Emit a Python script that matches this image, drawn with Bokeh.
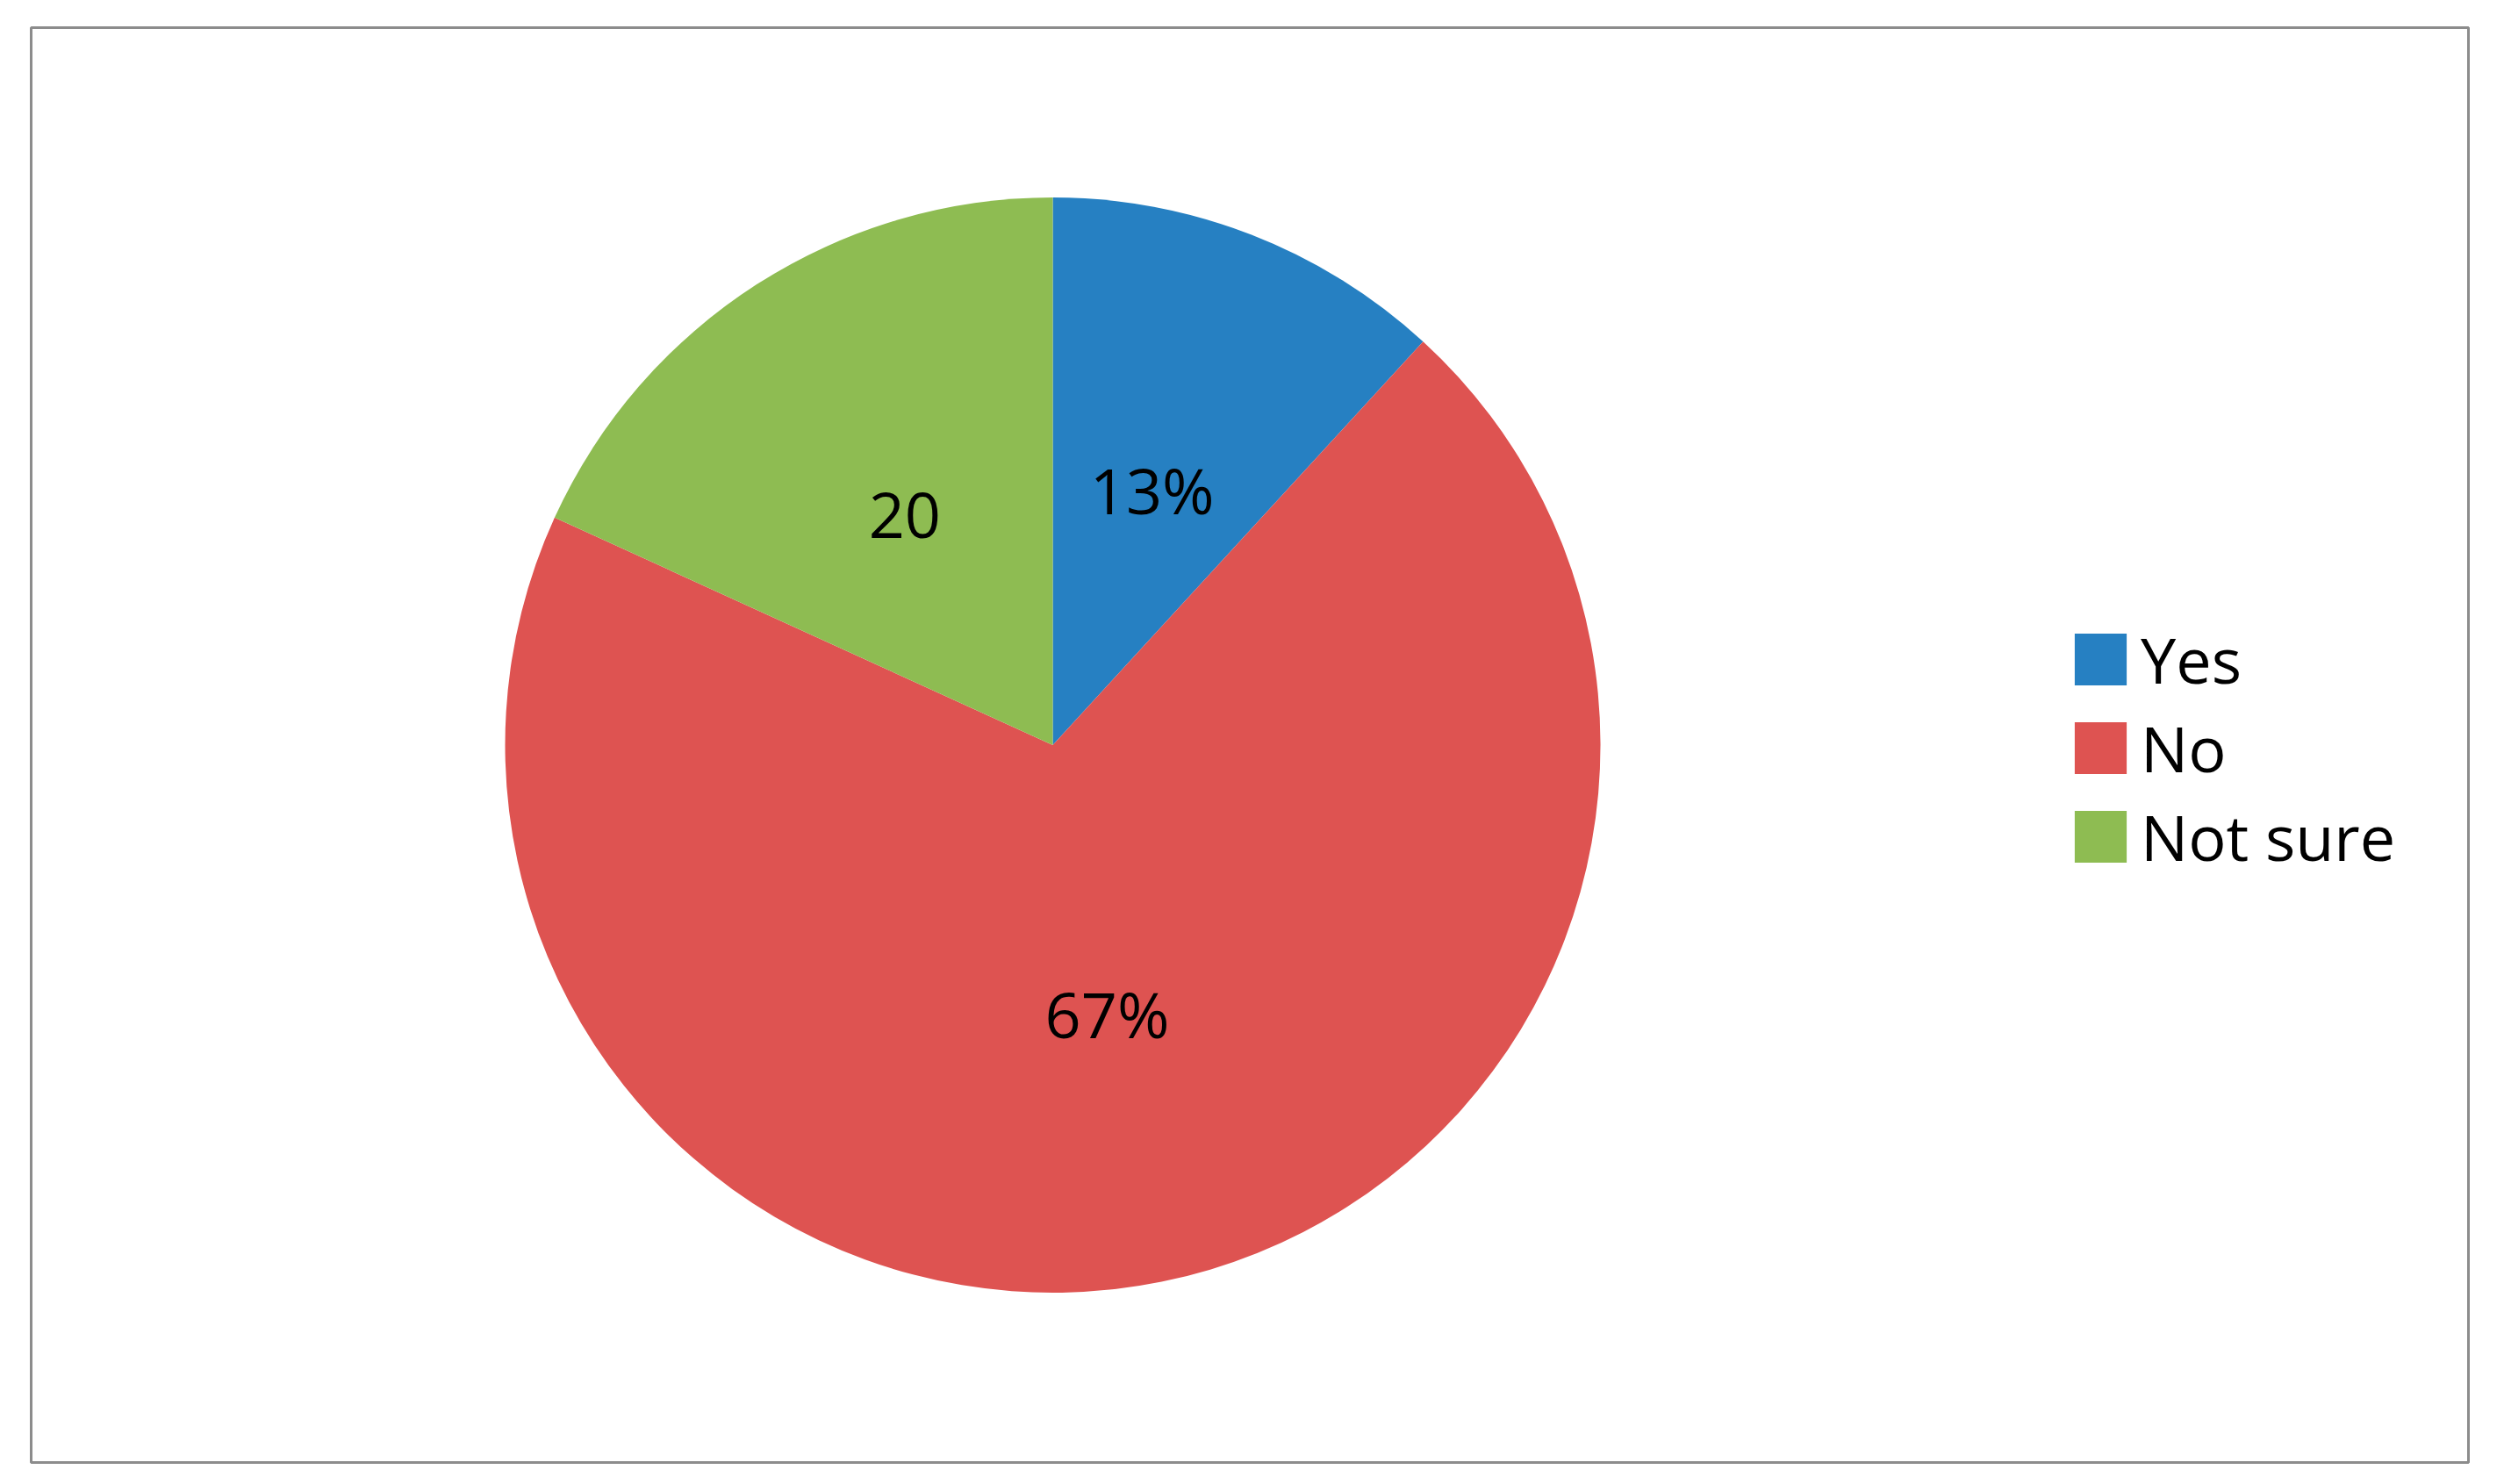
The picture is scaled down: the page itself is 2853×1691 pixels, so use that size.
import math
from bokeh.plotting import figure
from bokeh.models import Range1d, ColumnDataSource, Legend, LegendItem
from bokeh.core.properties import value
from bokeh.embed import file_html
from bokeh.resources import INLINE

# ---- data ----
categories = ["Yes", "No", "Not sure"]
counts = [13, 77, 20]
slice_labels = ["13%", "67%", "20"]
colors = ["#2680C2", "#DE5351", "#8EBC52"]

total = float(sum(counts))
starts, ends, lx, ly = [], [], [], []
cum = 0.0
for c in counts:
    a0 = math.pi / 2 - 2 * math.pi * cum / total
    cum += c
    a1 = math.pi / 2 - 2 * math.pi * cum / total
    starts.append(a0)
    ends.append(a1)
    mid = (a0 + a1) / 2
    lx.append(0.5 * math.cos(mid))
    ly.append(0.5 * math.sin(mid))

src = ColumnDataSource(dict(cat=categories, val=counts, start=starts, end=ends,
                            color=colors, lx=lx, ly=ly, lab=slice_labels))

W, H = 2837, 1675
p = figure(width=W, height=H, output_backend="svg", toolbar_location=None,
           x_range=Range1d(-1.8654, 2.5849), y_range=Range1d(-1.3101, 1.3101),
           min_border_left=35, min_border_top=31, min_border_right=25, min_border_bottom=9)
p.xaxis.visible = False
p.yaxis.visible = False
p.grid.visible = False
p.outline_line_color = "#8c8c8c"
p.outline_line_width = 3
p.background_fill_color = "white"
p.border_fill_color = "white"

r = p.wedge(x=0, y=0, radius=1.0, start_angle="start", end_angle="end",
            direction="clock", fill_color="color", line_color=None, source=src)

p.text(x="lx", y="ly", text="lab", source=src, text_align="center",
       text_baseline="middle", text_font=value("Open Sans"),
       text_font_size="72px", text_color="black")

items = [LegendItem(label=categories[i], renderers=[r], index=i) for i in range(len(categories))]
legend = Legend(items=items, location=(2321, 664))
legend.glyph_width = 74
legend.glyph_height = 74
legend.label_height = 59
legend.spacing = 3
legend.padding = 0
legend.margin = 0
legend.label_standoff = 9
legend.border_line_color = None
legend.background_fill_alpha = 0
legend.label_text_font = "Open Sans"
legend.label_text_font_size = "72px"
legend.label_text_color = "black"
p.add_layout(legend)

open("out.html", "w").write(file_html(p, INLINE))
